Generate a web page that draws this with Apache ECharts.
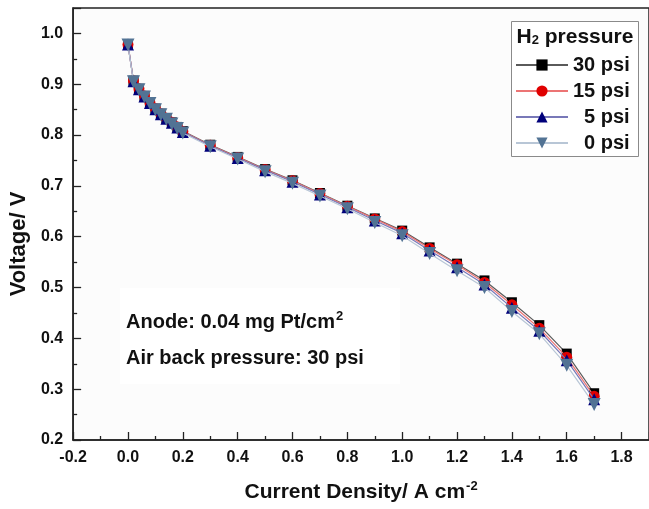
<!DOCTYPE html>
<html>
<head>
<meta charset="utf-8">
<script src="https://cdn.jsdelivr.net/npm/echarts@6/dist/echarts.min.js"></script>
<style>html,body{margin:0;padding:0;background:#fff}#c{width:649px;height:509px}</style>
</head>
<body>
<div id="c"></div>
<script>
const currentDensity = [0, 0.02, 0.04, 0.06, 0.08, 0.1, 0.12, 0.14, 0.16, 0.18, 0.2, 0.3, 0.4, 0.5, 0.6, 0.7, 0.8, 0.9, 1.0, 1.1, 1.2, 1.3, 1.4, 1.5, 1.6, 1.7];
const psi30 = [0.978, 0.907, 0.891, 0.877, 0.864, 0.852, 0.842, 0.833, 0.825, 0.816, 0.808, 0.781, 0.757, 0.733, 0.711, 0.686, 0.661, 0.636, 0.612, 0.579, 0.547, 0.514, 0.471, 0.426, 0.370, 0.292];
const psi15 = [0.978, 0.907, 0.891, 0.877, 0.864, 0.852, 0.842, 0.833, 0.825, 0.816, 0.807, 0.780, 0.756, 0.732, 0.710, 0.685, 0.660, 0.635, 0.610, 0.577, 0.545, 0.510, 0.466, 0.420, 0.363, 0.286];
const psi5  = [0.978, 0.906, 0.890, 0.876, 0.863, 0.851, 0.841, 0.832, 0.824, 0.815, 0.806, 0.779, 0.755, 0.731, 0.708, 0.683, 0.658, 0.632, 0.607, 0.573, 0.540, 0.506, 0.460, 0.415, 0.357, 0.280];
const psi0  = [0.977, 0.905, 0.889, 0.875, 0.862, 0.850, 0.840, 0.831, 0.822, 0.813, 0.804, 0.777, 0.753, 0.728, 0.705, 0.680, 0.655, 0.628, 0.602, 0.567, 0.533, 0.500, 0.453, 0.409, 0.347, 0.270];
const seriesNames = ['30 psi', '15 psi', '5 psi', '0 psi'];
const xTicks = { min: -0.2, max: 1.9, interval: 0.2 };
const yTicks = { min: 0.2, max: 1.05, interval: 0.1 };

const pair = arr => currentDensity.map((x, i) => [x, arr[i]]);
const FONT = 'Liberation Sans, Arial, sans-serif';

const styles = [
  { data: psi30, symbol: 'rect', size: 10, mc: '#000000', lc: '#5a5a5a', rot: 0 },
  { data: psi15, symbol: 'circle', size: 11, mc: '#e00000', lc: '#ec7474', rot: 0 },
  { data: psi5, symbol: 'triangle', size: 12, mc: '#00007a', lc: '#7878b8', rot: 0 },
  { data: psi0, symbol: 'triangle', size: 13, mc: '#527394', lc: '#b8c6d6', rot: 180 }
];

const axisCommon = {
  axisLine: { show: true, onZero: false, lineStyle: { color: '#222', width: 1.5 } },
  axisTick: { show: true, inside: true, length: 8, lineStyle: { color: '#222', width: 1.3 } },
  minorTick: { show: true, splitNumber: 2, length: 4, lineStyle: { color: '#222', width: 1.3 } },
  splitLine: { show: false }
};

// right-align legend labels: shorter names get a left padding equal to the width difference
const legendFontSize = 20;
const measureCtx = document.createElement('canvas').getContext('2d');
measureCtx.font = 'bold ' + legendFontSize + 'px ' + FONT;
const maxW = Math.max(...seriesNames.map(n => measureCtx.measureText(n).width));
const legendData = seriesNames.map(n => ({
  name: n,
  textStyle: { padding: [0, 0, 0, Math.round(maxW - measureCtx.measureText(n).width)] }
}));

const chart = echarts.init(document.getElementById('c'), null, { renderer: 'canvas' });
chart.setOption({
  backgroundColor: '#ffffff',
  animation: false,
  grid: { left: 73, right: -3, top: 8, bottom: 69, show: true, borderColor: '#222', borderWidth: 1.5, backgroundColor: '#fcfcfc' },
  xAxis: Object.assign({
    type: 'value', min: xTicks.min, max: xTicks.max, interval: xTicks.interval,
    name: '{a|Current Density/ A cm}{s|-2}', nameLocation: 'middle', nameGap: 40,
    nameTextStyle: { rich: {
      a: { fontFamily: FONT, fontWeight: 'bold', fontSize: 21, color: '#111' },
      s: { fontFamily: FONT, fontWeight: 'bold', fontSize: 13, color: '#111', verticalAlign: 'top', padding: [0,0,12,1] }
    } },
    axisLabel: { showMaxLabel: false, margin: 10, fontFamily: FONT, fontWeight: 'bold', fontSize: 16, color: '#111',
      formatter: v => v.toFixed(1) }
  }, axisCommon),
  yAxis: Object.assign({
    type: 'value', min: yTicks.min, max: yTicks.max, interval: yTicks.interval,
    name: 'Voltage/ V', nameLocation: 'middle', nameGap: 43,
    nameTextStyle: { fontFamily: FONT, fontWeight: 'bold', fontSize: 22, color: '#111', padding: [0, 40, 0, 0] },
    axisLabel: { showMaxLabel: false, margin: 10, fontFamily: FONT, fontWeight: 'bold', fontSize: 16, color: '#111',
      formatter: v => v.toFixed(1) }
  }, axisCommon),
  legend: {
    orient: 'vertical', left: 515, top: 55, padding: 0, itemWidth: 52, itemHeight: 14, itemGap: 6,
    data: legendData,
    textStyle: { fontFamily: FONT, fontWeight: 'bold', fontSize: legendFontSize, color: '#111', lineHeight: 20 }
  },
  graphic: [
    { type: 'rect', shape: { x: 511.5, y: 21.5, width: 127, height: 135 }, style: { fill: '#ffffff', stroke: '#8a8a8a', lineWidth: 1 }, z: 0 },
    { type: 'text', x: 575, y: 37, style: { text: '{a|H}{s|2}{a| pressure}', align: 'center', verticalAlign: 'middle', rich: {
      a: { fontFamily: FONT, fontWeight: 'bold', fontSize: 21, fill: '#111' },
      s: { fontFamily: FONT, fontWeight: 'bold', fontSize: 13, fill: '#111', padding: [7,0,0,0] } } }, z: 10 },
    { type: 'rect', shape: { x: 120, y: 288, width: 280, height: 96 }, style: { fill: '#ffffff' }, z: 1 },
    { type: 'text', x: 126, y: 322, style: { text: '{a|Anode: 0.04 mg Pt/cm}{s|2}', verticalAlign: 'middle', rich: {
      a: { fontFamily: FONT, fontWeight: 'bold', fontSize: 20, fill: '#111' },
      s: { fontFamily: FONT, fontWeight: 'bold', fontSize: 13, fill: '#111', padding: [0,0,12,1] } } }, z: 10 },
    { type: 'text', x: 126, y: 358, style: { text: 'Air back pressure: 30 psi', verticalAlign: 'middle', fontFamily: FONT, fontWeight: 'bold', fontSize: 20, fill: '#111' }, z: 10 }
  ],
  series: styles.map((s, i) => ({
    name: seriesNames[i], type: 'line', data: pair(s.data),
    symbol: s.symbol, symbolSize: s.size, symbolRotate: s.rot, showAllSymbol: true,
    itemStyle: { color: s.mc },
    lineStyle: { color: s.lc, width: 1.2 },
    z: 5 + i
  }))
});
</script>
</body>
</html>
